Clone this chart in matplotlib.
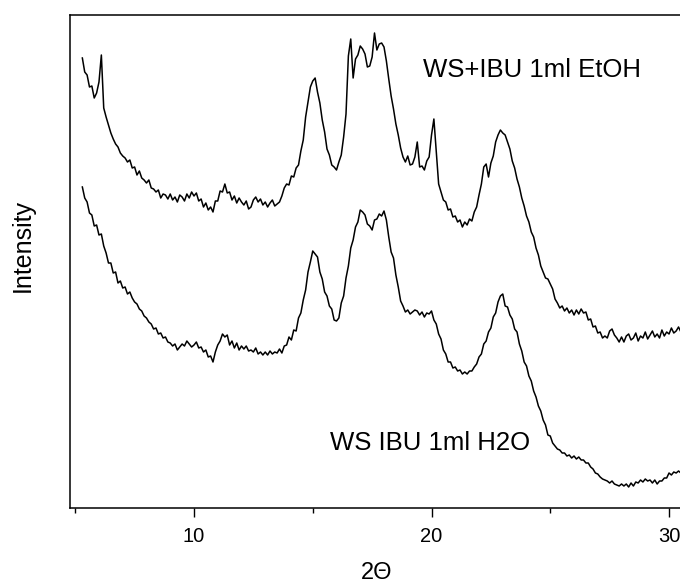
import numpy as np
import matplotlib
matplotlib.use("Agg")
import matplotlib.pyplot as plt
from matplotlib.ticker import MultipleLocator, NullLocator

plt.rcParams['font.family'] = ['Liberation Sans', 'DejaVu Sans']

# Scan grid (2-theta, degrees)
scan_start = 5.3
scan_step = 0.1

# Intensity, WS+IBU prepared with 1 ml EtOH (offset upward)
etoh = [
    450, 436, 433, 421, 422, 410, 415,
    426, 453, 400, 391, 383, 375, 369, 364, 361, 355,
    352, 350, 346, 348, 340, 341, 333, 337, 330, 328,
    325, 328, 320, 319, 316, 318, 310, 314, 313, 309,
    314, 308, 311, 306, 313, 311, 307, 314, 310, 316,
    312, 315, 307, 309, 301, 305, 298, 301, 296, 307,
    307, 317, 316, 324, 315, 316, 308, 312, 305, 310,
    306, 303, 307, 299, 301, 308, 311, 306, 309, 303,
    306, 301, 305, 308, 302, 304, 306, 312, 320, 324,
    323, 332, 331, 340, 343, 357, 368, 391, 406, 421,
    427, 430, 416, 405, 388, 376, 359, 353, 343, 341,
    338, 346, 353, 371, 394, 452, 469, 430, 449, 453,
    462, 459, 454, 441, 442, 451, 475, 458, 464, 465,
    461, 447, 429, 412, 399, 384, 373, 360, 351, 346,
    352, 343, 344, 351, 366, 341, 342, 338, 347, 351,
    373, 389, 356, 324, 316, 308, 306, 298, 299, 291,
    292, 286, 288, 281, 286, 283, 289, 287, 296, 301,
    313, 324, 341, 344, 331, 345, 352, 366, 373, 378,
    375, 373, 366, 359, 347, 340, 329, 321, 310, 302,
    292, 286, 276, 271, 260, 253, 242, 236, 230, 229,
    224, 219, 209, 205, 200, 202, 197, 200, 195, 198,
    193, 198, 194, 199, 195, 196, 188, 189, 181, 182,
    175, 176, 170, 172, 170, 177, 179, 173, 170, 166,
    171, 166, 172, 174, 168, 170, 175, 167, 172, 170,
    176, 169, 173, 177, 171, 174, 170, 178, 172, 176,
    174, 180, 175, 177, 181, 176,
]

# Intensity, WS IBU prepared with 1 ml H2O
h2o = [
    321, 310, 306, 295, 293, 282, 283,
    273, 274, 262, 255, 245, 245, 235, 236, 225, 227,
    220, 221, 214, 216, 210, 206, 204, 199, 197, 192,
    190, 186, 184, 179, 180, 174, 175, 170, 171, 166,
    165, 162, 164, 158, 161, 164, 162, 167, 164, 161,
    163, 166, 160, 161, 156, 158, 151, 152, 146, 156,
    163, 167, 174, 171, 173, 163, 167, 160, 165, 158,
    162, 159, 162, 157, 158, 156, 160, 154, 156, 153,
    156, 153, 157, 154, 156, 155, 159, 155, 162, 163,
    171, 168, 178, 177, 190, 195, 208, 218, 236, 246,
    257, 254, 251, 236, 229, 216, 212, 202, 199, 188,
    187, 190, 205, 212, 230, 242, 260, 268, 281, 286,
    298, 296, 293, 284, 282, 278, 288, 289, 294, 292,
    297, 288, 271, 256, 250, 233, 221, 207, 202, 196,
    198, 194, 196, 198, 197, 193, 196, 191, 195, 194,
    197, 188, 184, 174, 169, 158, 154, 146, 146, 140,
    141, 137, 138, 134, 136, 134, 137, 137, 141, 144,
    151, 154, 164, 167, 176, 180, 191, 195, 206, 212,
    214, 202, 201, 193, 189, 179, 176, 164, 157, 146,
    142, 132, 127, 117, 111, 102, 97, 88, 83, 73,
    72, 65, 62, 59, 58, 55, 55, 52, 53, 50,
    52, 49, 51, 48, 48, 45, 45, 41, 39, 35,
    34, 31, 29, 28, 27, 25, 27, 24, 23, 22,
    24, 22, 24, 21, 25, 22, 26, 25, 28, 26,
    29, 27, 28, 25, 28, 24, 27, 27, 30, 30,
    35, 33, 36, 35, 37, 35,
]

label_etoh = "WS+IBU 1ml EtOH"
label_h2o = "WS IBU 1ml H2O"

two_theta_etoh = scan_start + scan_step * np.arange(len(etoh))
two_theta_h2o = scan_start + scan_step * np.arange(len(h2o))

W, H = 680, 584
fig = plt.figure(figsize=(W / 100, H / 100), dpi=100)
ax = fig.add_axes([70 / W, (H - 508) / H, 614 / W, 493 / H])

ax.plot(two_theta_etoh, etoh, color='black', lw=1.1)
ax.plot(two_theta_h2o, h2o, color='black', lw=1.1)

ax.set_xlim(4.78, 30.63)
ax.set_ylim(0, 493)

ax.xaxis.set_major_locator(MultipleLocator(10))
ax.xaxis.set_minor_locator(MultipleLocator(5))
ax.yaxis.set_major_locator(NullLocator())
ax.tick_params(axis='x', which='major', direction='out', length=6.5, width=1.0,
               labelsize=14.5, pad=7)
ax.tick_params(axis='x', which='minor', direction='out', length=3.5, width=1.0)

for side in ['left', 'top', 'bottom', 'right']:
    ax.spines[side].set_linewidth(1.1)

# Axis titles placed in figure pixels
fig.text(377 / W, 1 - 579 / H, "2\u0398", fontsize=17, ha='center', va='baseline')
fig.text(23 / W, 1 - 246 / H, "Intensity", fontsize=18, rotation=90,
         ha='center', va='center')

ax.text(19.64, 438, label_etoh, fontsize=18.5, ha='left', va='center')
ax.text(15.72, 65, label_h2o, fontsize=18.5, ha='left', va='center')

fig.savefig("out.png", dpi=100)
